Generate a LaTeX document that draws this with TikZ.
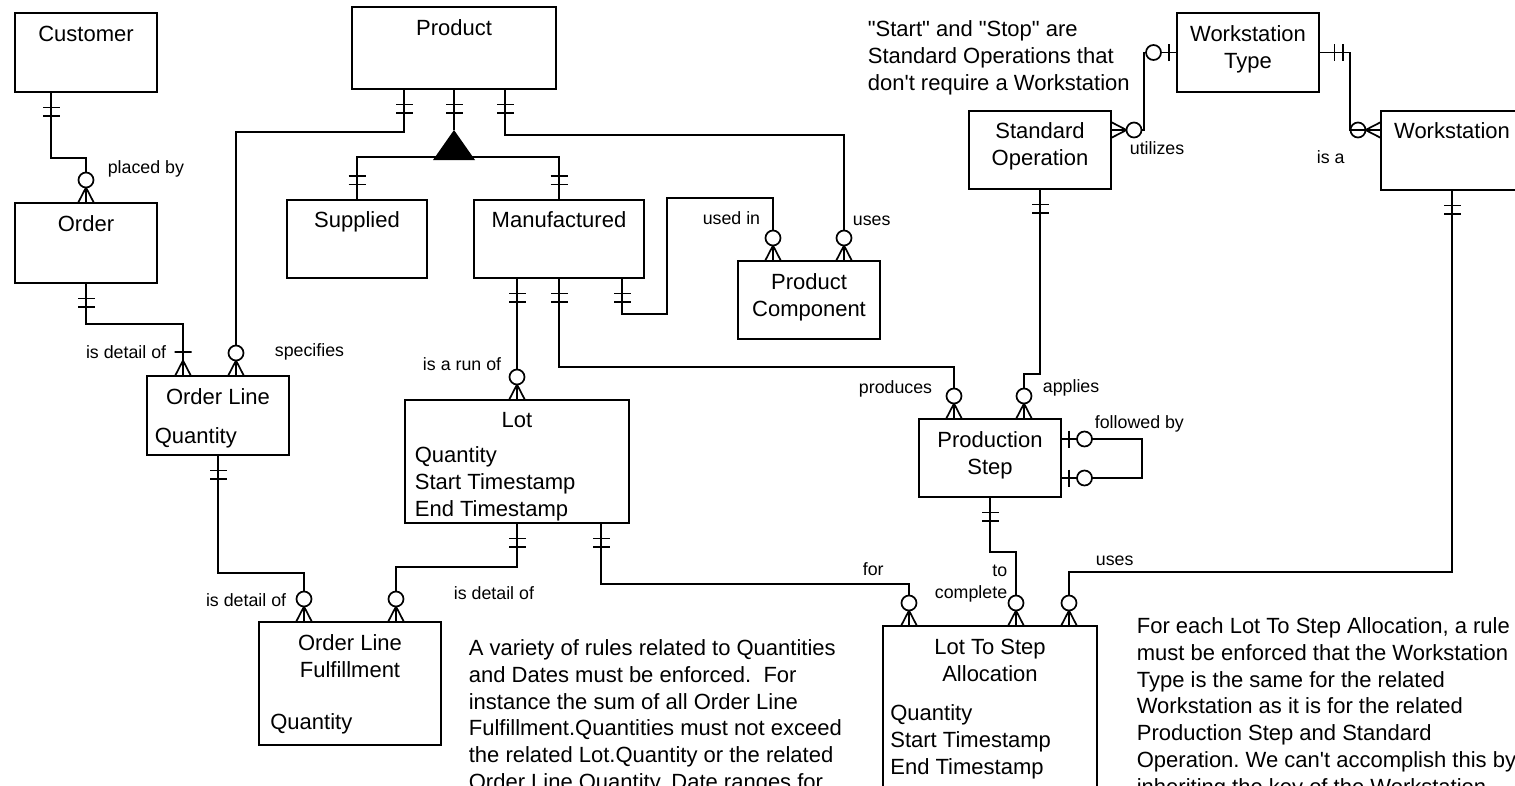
\documentclass[tikz,border=0pt]{standalone}
\usepackage{fontspec}
\setmainfont{Liberation Sans}
\usetikzlibrary{positioning}
\frenchspacing

\begin{document}
\begin{tikzpicture}[
		x=1pt, y=-1pt,
		line width=1.7pt,
		ent/.style={rectangle, draw, anchor=north west, inner sep=0pt, outer sep=0pt},
		etitle/.style={inner sep=0pt, align=center, font=\fontsize{22}{27}\selectfont},
		eattr/.style={inner sep=0pt, align=left, anchor=north west, font=\fontsize{22}{27}\selectfont},
		rlabel/.style={inner sep=0pt, align=right, font=\fontsize{17.8}{22}\selectfont},
		note/.style={inner sep=0pt, align=left, anchor=north west, font=\fontsize{22}{26.7}\selectfont},
		ring/.style={fill=white},
		mandone/.pic={\draw (-8.5,-15.5) -- (8.5,-15.5) (-8.5,-24) -- (8.5,-24);},
		zmany/.pic={\draw (-8,0) -- (0,-15.5) -- (8,0); \draw[ring] (0,-23) circle[radius=7.5];},
		onemany/.pic={\draw (-8,0) -- (0,-15.5) -- (8,0) (-8.5,-24) -- (8.5,-24);},
		zone/.pic={\draw (-8.5,-8) -- (8.5,-8); \draw[ring] (0,-23.5) circle[radius=7.5];},
		]

		\useasboundingbox (0,0) rectangle (1515,785);
		\clip (0,0) rectangle (1515,785);

		\node[ent, minimum width=142pt, minimum height=79pt] (customer) at (15,13) {};
		\node[etitle, below=12pt of customer.north] (customer-t) {Customer};
		\node[ent, minimum width=142pt, minimum height=80pt] (order) at (15,203) {};
		\node[etitle, below=12pt of order.north] (order-t) {Order};
		\node[ent, minimum width=204pt, minimum height=82pt] (product) at (352,7) {};
		\node[etitle, below=12pt of product.north] (product-t) {Product};
		\node[ent, minimum width=140pt, minimum height=78pt] (supplied) at (287,200) {};
		\node[etitle, below=11pt of supplied.north] (supplied-t) {Supplied};
		\node[ent, minimum width=170pt, minimum height=78pt] (manuf) at (474,200) {};
		\node[etitle, below=11pt of manuf.north] (manuf-t) {Manufactured};
		\node[ent, minimum width=142pt, minimum height=78pt] (pcomp) at (738,261) {};
		\node[etitle, below=12pt of pcomp.north] (pcomp-t) {Product\\Component};
		\node[ent, minimum width=142pt, minimum height=79pt] (oline) at (147,376) {};
		\node[etitle, below=12pt of oline.north] (oline-t) {Order Line};
		\node[eattr, below right=51pt and 7pt of oline.north west] (oline-a) {Quantity};
		\node[ent, minimum width=224pt, minimum height=123pt] (lot) at (405,400) {};
		\node[etitle, below=12pt of lot.north] (lot-t) {Lot};
		\node[eattr, below right=46pt and 9pt of lot.north west] (lot-a) {Quantity\\Start Timestamp\\End Timestamp};
		\node[ent, minimum width=182pt, minimum height=123pt] (olf) at (259,622) {};
		\node[etitle, below=12pt of olf.north] (olf-t) {Order Line\\Fulfillment};
		\node[eattr, below right=91pt and 10.5pt of olf.north west] (olf-a) {Quantity};
		\node[ent, minimum width=214pt, minimum height=200pt] (ltsa) at (883,626) {};
		\node[etitle, below=12pt of ltsa.north] (ltsa-t) {Lot To Step\\Allocation};
		\node[eattr, below right=78pt and 6.5pt of ltsa.north west] (ltsa-a) {Quantity\\Start Timestamp\\End Timestamp};
		\node[ent, minimum width=142pt, minimum height=78pt] (pstep) at (919,419) {};
		\node[etitle, below=12pt of pstep.north] (pstep-t) {Production\\Step};
		\node[ent, minimum width=142pt, minimum height=78pt] (sop) at (969,111) {};
		\node[etitle, below=11pt of sop.north] (sop-t) {Standard\\Operation};
		\node[ent, minimum width=142pt, minimum height=79pt] (wtype) at (1177,13) {};
		\node[etitle, below=12pt of wtype.north] (wtype-t) {Workstation\\Type};
		\node[ent, minimum width=142pt, minimum height=79pt] (wstat) at (1381,111) {};
		\node[etitle, below=11pt of wstat.north] (wstat-t) {Workstation};

		\coordinate (isa) at (454,130);
		\fill (isa) -- ++(21,30) -- ++(-42,0) -- cycle;

		\draw (customer.south -| 51,0) -- ++(0,66) -| (order.north);
		\draw (order.south) -- ++(0,41) -| (oline.north -| 183,0);
		\draw (product.south -| 404,0) -- ++(0,43) -| (oline.north -| 236,0);
		\draw (product.south) -- (isa);
		\draw (supplied.north) -- ++(0,-43) -| (manuf.north);
		\draw (product.south -| 505,0) -- ++(0,46) -| (pcomp.north -| 844,0);
		\draw (manuf.south -| 622,0) -- ++(0,36) -- ++(45,0) -- ++(0,-116) -| (pcomp.north -| 773,0);
		\draw (manuf.south -| lot.north) -- (lot.north);
		\draw (manuf.south) -- ++(0,89) -| (pstep.north -| 954,0);
		\draw (sop.south) -- ++(0,185) -| (pstep.north -| 1024,0);
		\draw (pstep.east |- 0,439) -- ++(81,0) |- (pstep.east |- 0,478);
		\draw (pstep.south) -- ++(0,55) -| (ltsa.north -| 1016,0);
		\draw (lot.south -| 601,0) -- ++(0,61) -| (ltsa.north -| 909,0);
		\draw (lot.south) -- ++(0,44) -| (olf.north -| 396,0);
		\draw (oline.south) -- ++(0,118) -| (olf.north -| 304,0);
		\draw (wstat.south) -- ++(0,382) -| (ltsa.north -| 1069,0);
		\draw (wtype.west) -- ++(-33,0) |- (sop.east |- 0,130);
		\draw (wtype.east) -- ++(31,0) |- (wstat.west |- 0,130);

		\pic[rotate=180] at (customer.south -| 51,0) {mandone};
		\pic at (order.north) {zmany};
		\pic[rotate=180] at (order.south) {mandone};
		\pic at (oline.north -| 183,0) {onemany};
		\pic[rotate=180] at (product.south -| 404,0) {mandone};
		\pic at (oline.north -| 236,0) {zmany};
		\pic[rotate=180] at (product.south) {mandone};
		\pic at (supplied.north) {mandone};
		\pic at (manuf.north) {mandone};
		\pic[rotate=180] at (product.south -| 505,0) {mandone};
		\pic at (pcomp.north -| 844,0) {zmany};
		\pic[rotate=180] at (manuf.south -| 622,0) {mandone};
		\pic at (pcomp.north -| 773,0) {zmany};
		\pic[rotate=180] at (manuf.south -| lot.north) {mandone};
		\pic at (lot.north) {zmany};
		\pic[rotate=180] at (manuf.south) {mandone};
		\pic at (pstep.north -| 954,0) {zmany};
		\pic[rotate=180] at (sop.south) {mandone};
		\pic at (pstep.north -| 1024,0) {zmany};
		\pic[rotate=-90] at (pstep.east |- 0,439) {zone};
		\pic[rotate=-90] at (pstep.east |- 0,478) {zone};
		\pic[rotate=180] at (pstep.south) {mandone};
		\pic at (ltsa.north -| 1016,0) {zmany};
		\pic[rotate=180] at (lot.south -| 601,0) {mandone};
		\pic at (ltsa.north -| 909,0) {zmany};
		\pic[rotate=180] at (lot.south) {mandone};
		\pic at (olf.north -| 396,0) {zmany};
		\pic[rotate=180] at (oline.south) {mandone};
		\pic at (olf.north -| 304,0) {zmany};
		\pic[rotate=180] at (wstat.south) {mandone};
		\pic at (ltsa.north -| 1069,0) {zmany};
		\pic[rotate=90] at (wtype.west) {zone};
		\pic[rotate=-90] at (sop.east |- 0,130) {zmany};
		\pic[rotate=-90] at (wtype.east) {mandone};
		\pic[rotate=90, ring/.style={fill=none}] at (wstat.west |- 0,130) {zmany};

		\node[rlabel, anchor=west] (l-placed) at (107,169) {placed by};
		\node[rlabel, anchor=east] (l-detail1) at (167,352) {is detail of};
		\node[rlabel, anchor=west] (l-spec) at (274,352) {specifies};
		\node[rlabel, anchor=east] (l-usedin) at (761,218) {used in};
		\node[rlabel, anchor=west] (l-uses1) at (852,221) {uses};
		\node[rlabel, anchor=east] (l-run) at (502,364) {is a run of};
		\node[rlabel, anchor=east] (l-prod) at (933,389) {produces};
		\node[rlabel, anchor=west] (l-appl) at (1042,388) {applies};
		\node[rlabel, anchor=west] (l-foll) at (1094,424) {followed by};
		\node[rlabel, anchor=east] (l-compl) at (1008,584) {to\\complete};
		\node[rlabel, anchor=west] (l-for) at (862,569) {for};
		\node[rlabel, anchor=west] (l-detail2) at (453,593) {is detail of};
		\node[rlabel, anchor=east] (l-detail3) at (287,600) {is detail of};
		\node[rlabel, anchor=west] (l-uses2) at (1095,561) {uses};
		\node[rlabel, anchor=west] (l-util) at (1129,148) {utilizes};
		\node[rlabel, anchor=west] (l-isa) at (1316,157) {is a};

		\node[note] (n-start) at (867,20) {\textquotedbl Start\textquotedbl{} and \textquotedbl Stop\textquotedbl{} are\\Standard Operations that\\don\textquotesingle t require a Workstation};
		\node[note] (n-rules) at (468,639) {A variety of rules related to Quantities\\and Dates must be enforced.\ \ For\\instance the sum of all Order Line\\Fulfillment.Quantities must not exceed\\the related Lot.Quantity or the related\\Order Line Quantity. Date ranges for};
		\node[note] (n-alloc) at (1136,617) {For each Lot To Step Allocation, a rule\\must be enforced that the Workstation\\Type is the same for the related\\Workstation as it is for the related\\Production Step and Standard\\Operation. We can\textquotesingle t accomplish this by\\inheriting the key of the Workstation};

	\end{tikzpicture}
\end{document}
